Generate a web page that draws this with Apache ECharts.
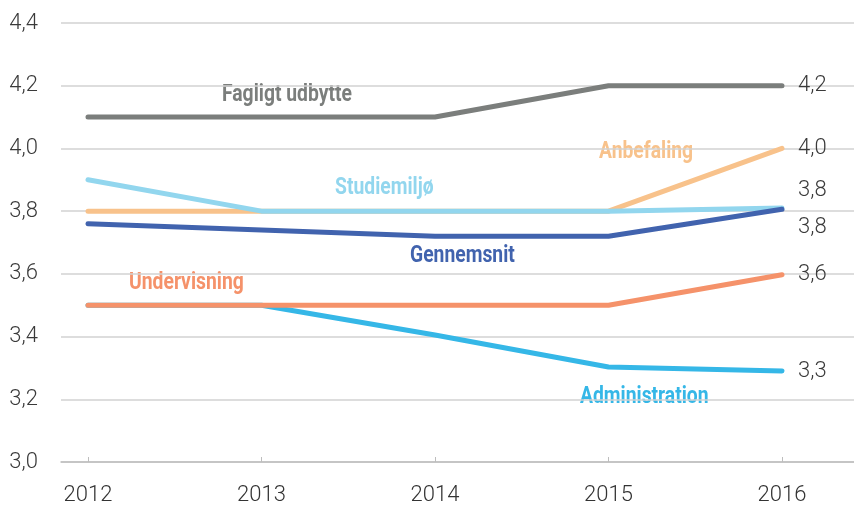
<!DOCTYPE html>
<html><head><meta charset="utf-8">
<script src="https://cdn.jsdelivr.net/npm/echarts@6/dist/echarts.min.js"></script>
<style>html,body{margin:0;padding:0;background:#fff}#c{width:854px;height:508px}</style>
</head><body><div id="c"></div>
<script>
const years = ['2012','2013','2014','2015','2016'];
const yTicks = [3.0, 3.2, 3.4, 3.6, 3.8, 4.0, 4.2, 4.4];
const administration = [3.5, 3.5, 3.405, 3.303, 3.29];
const undervisning = [3.5, 3.5, 3.5, 3.5, 3.597];
const anbefaling = [3.8, 3.8, 3.8, 3.8, 4.0];
const studiemiljo = [3.9, 3.8, 3.8, 3.8, 3.81];
const gennemsnit = [3.76, 3.74, 3.72, 3.72, 3.806];
const fagligt = [4.1, 4.1, 4.1, 4.2, 4.2];

const FONT = 'Roboto';
const fmt = v => v.toFixed(1).replace('.', ',');
const numText = { color: '#3a3a3a', fontFamily: FONT, fontWeight: 300, fontSize: 22 };

function mk(name, data, color, z, labelOffset) {
  return {
    name, type: 'line', data, xAxisIndex: 1, yAxisIndex: 1, z,
    symbol: 'none', smooth: false,
    lineStyle: { color, width: 5, cap: 'round', join: 'round' },
    endLabel: Object.assign({
      show: true, formatter: p => fmt(p.value), distance: 16, offset: labelOffset || [0, 0]
    }, numText),
    animation: false
  };
}
function lbl(text, left, top, fill) {
  return { type: 'text', left, top, scaleX: 0.84,
    style: { text, fill, font: 'bold 23px ' + FONT } };
}

const chart = echarts.init(document.getElementById('c'), null, { renderer: 'canvas' });
chart.setOption({
  backgroundColor: '#fff',
  animation: false,
  grid: [
    { left: 61, right: 0, top: 23, bottom: 46 },
    { left: 88, right: 72, top: 23, bottom: 46 }
  ],
  xAxis: [
    { type: 'category', gridIndex: 0, data: years, boundaryGap: false,
      axisLine: { show: true, lineStyle: { color: '#bdbdbd', width: 1.5 } },
      axisTick: { show: false }, axisLabel: { show: false }, splitLine: { show: false } },
    { type: 'category', gridIndex: 1, data: years, boundaryGap: false,
      axisLine: { show: false },
      axisTick: { show: true, inside: true, length: 5, lineStyle: { color: '#bdbdbd' } },
      axisLabel: Object.assign({ margin: 22 }, numText, { color: '#333' }),
      splitLine: { show: false } }
  ],
  yAxis: [
    { type: 'value', gridIndex: 0, min: yTicks[0], max: yTicks[yTicks.length - 1], interval: 0.2,
      axisLine: { show: false }, axisTick: { show: false },
      axisLabel: Object.assign({ margin: 23, formatter: fmt }, numText),
      splitLine: { show: true, lineStyle: { color: '#d2d2d2', width: 1.5 } } },
    { type: 'value', gridIndex: 1, min: yTicks[0], max: yTicks[yTicks.length - 1], interval: 0.2,
      show: false, splitLine: { show: false } }
  ],
  graphic: [
    lbl('Fagligt udbytte', 222, 84, '#7b7e7c'),
    lbl('Anbefaling', 599, 141, '#f8c28b'),
    lbl('Studiemiljø', 335, 177, '#92d6ee'),
    lbl('Gennemsnit', 410, 245, '#4163ae'),
    lbl('Undervisning', 129, 272, '#f5926a'),
    lbl('Administration', 580, 386, '#35b7e7')
  ],
  series: [
    mk('Administration', administration, '#35b7e7', 2),
    mk('Undervisning', undervisning, '#f5926a', 3),
    mk('Anbefaling', anbefaling, '#f8c28b', 4),
    mk('Studiemiljø', studiemiljo, '#92d6ee', 5, [0, -18]),
    mk('Gennemsnit', gennemsnit, '#4163ae', 6, [0, 18]),
    mk('Fagligt udbytte', fagligt, '#7b7e7c', 7)
  ]
});
</script></body></html>
